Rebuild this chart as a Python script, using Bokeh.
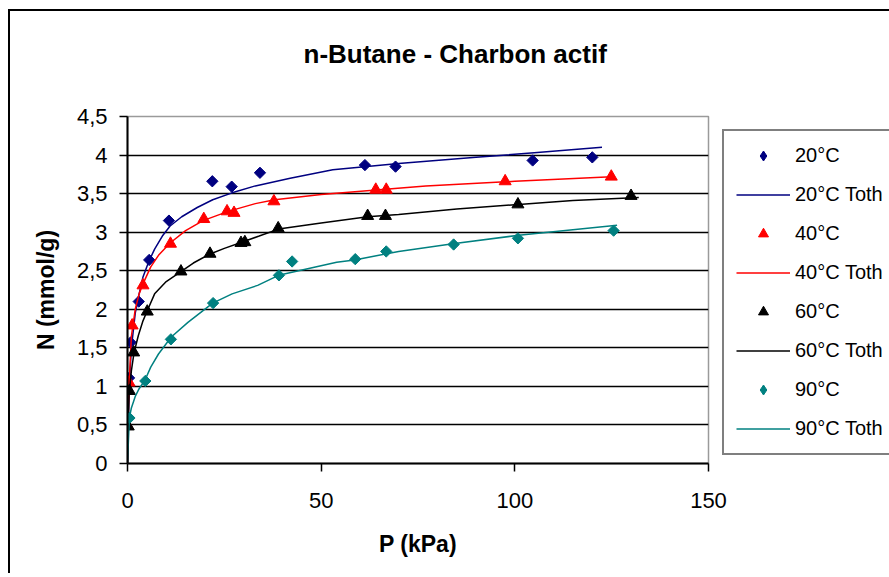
from bokeh.plotting import figure
from bokeh.models import Range1d, FixedTicker, Legend, LegendItem, CustomJSTickFormatter
from bokeh.embed import file_html
from bokeh.resources import INLINE
import math

# ---------------- data ----------------
title_text = "n-Butane - Charbon actif"
x_label = "P (kPa)"
y_label = "N (mmol/g)"
x_ticks = [0, 50, 100, 150]
y_ticks = [0, 0.5, 1, 1.5, 2, 2.5, 3, 3.5, 4, 4.5]
grid_levels = [0.5, 1, 1.5, 2, 2.5, 3, 3.5, 4]

# 20 °C experimental
p20 = [0.0, 0.4, 0.8, 2.9, 5.6, 10.7, 21.9, 26.9, 34.2, 61.3, 69.2, 104.6, 120.0]
n20 = [0.61, 1.11, 1.57, 2.10, 2.64, 3.15, 3.66, 3.59, 3.77, 3.87, 3.85, 3.93, 3.97]
# 20 °C Toth
p20t = [0, 0.2, 0.5, 1, 2, 3, 4, 5.5, 7, 9, 11, 14, 18, 22, 27, 33, 42, 53, 70, 90, 105, 122.5]
n20t = [0, 0.55, 1.05, 1.5, 1.95, 2.2, 2.42, 2.62, 2.78, 2.95, 3.08, 3.2, 3.32, 3.42,
        3.51, 3.6, 3.7, 3.81, 3.89, 3.97, 4.03, 4.10]

# 40 °C experimental
p40 = [0.0, 0.4, 1.2, 4.0, 11.1, 19.7, 25.7, 27.5, 37.8, 64.1, 66.8, 97.5, 124.9]
n40 = [0.49, 1.05, 1.79, 2.31, 2.85, 3.17, 3.27, 3.25, 3.40, 3.55, 3.55, 3.66, 3.72]
# 40 °C Toth
p40t = [0, 0.1, 0.4, 1, 2, 3, 4, 6, 8, 11, 15, 19.5, 26, 33, 38, 50, 65, 77, 100, 125]
n40t = [0, 0.45, 1.0, 1.65, 2.0, 2.2, 2.33, 2.55, 2.7, 2.86, 3.02, 3.15, 3.27, 3.37,
        3.42, 3.49, 3.55, 3.6, 3.66, 3.72]

# 60 °C experimental
p60 = [0.2, 0.5, 1.6, 5.1, 13.8, 21.3, 29.3, 30.3, 38.9, 62.0, 66.6, 100.8, 130.0]
n60 = [0.48, 0.94, 1.44, 1.97, 2.49, 2.72, 2.86, 2.87, 3.05, 3.21, 3.21, 3.36, 3.47]
# 60 °C Toth
p60t = [0, 0.1, 0.4, 1, 1.7, 2.8, 4, 5.1, 7, 10, 13.5, 17, 21, 25, 29.5, 34, 39, 50,
        62, 70, 85, 101, 115, 132]
n60t = [0, 0.35, 0.9, 1.2, 1.44, 1.66, 1.85, 1.98, 2.2, 2.36, 2.48, 2.6, 2.71, 2.79,
        2.87, 2.95, 3.04, 3.12, 3.2, 3.23, 3.3, 3.36, 3.41, 3.45]

# 90 °C experimental
p90 = [0.5, 4.6, 11.2, 22.1, 39.1, 42.5, 58.8, 66.8, 84.2, 100.8, 125.5]
n90 = [0.59, 1.07, 1.61, 2.08, 2.44, 2.62, 2.65, 2.75, 2.84, 2.92, 3.02]
# 90 °C Toth
p90t = [0, 0.2, 0.5, 1, 2, 3, 4.5, 6, 8, 11.3, 15.6, 22, 27, 33.6, 39, 54, 58.6, 70,
        84, 101, 126.4]
n90t = [0, 0.25, 0.6, 0.72, 0.87, 0.97, 1.08, 1.25, 1.42, 1.64, 1.83, 2.08, 2.2, 2.31,
        2.44, 2.61, 2.64, 2.75, 2.85, 2.96, 3.09]

series_labels = ["20°C", "20°C Toth", "40°C", "40°C Toth",
                 "60°C", "60°C Toth", "90°C", "90°C Toth"]

NAVY = "#000080"
RED = "#FF0000"
BLACK = "#000000"
TEAL = "#008080"
FONT = "Liberation Sans"

# ---------------- figure ----------------
p = figure(frame_width=581, frame_height=347,
           min_border_left=117, min_border_right=180,
           min_border_top=105, min_border_bottom=110,
           x_range=Range1d(0, 150), y_range=Range1d(0, 4.5),
           output_backend="svg", toolbar_location=None)
p.styles = {"margin-left": "8px", "margin-top": "9px",
            "border-left": "2px solid black", "border-top": "2px solid black"}
p.background_fill_color = "white"
p.border_fill_color = "white"
p.outline_line_color = "#9a9a9a"
p.outline_line_width = 1.5

# title (a trailing blank line lifts the text inside the title band)
p.title.text = title_text + "\n "
p.title.align = "left"
p.title.offset = 176
p.title.vertical_align = "bottom"
p.title.text_font = FONT
p.title.text_font_size = "26px"
p.title.text_font_style = "bold"
p.title.text_color = "black"
p.title.standoff = 36

# axes
for ax in (p.xaxis[0], p.yaxis[0]):
    ax.axis_line_color = "black"
    ax.axis_line_width = 2
    ax.major_tick_line_color = "black"
    ax.major_tick_line_width = 1.5
    ax.major_tick_in = 0
    ax.major_tick_out = 8
    ax.minor_tick_line_color = None
    ax.major_label_text_font = FONT
    ax.major_label_text_font_size = "22px"
    ax.major_label_text_color = "black"
    ax.axis_label_text_font = FONT
    ax.axis_label_text_font_size = "23px"
    ax.axis_label_text_font_style = "bold"
    ax.axis_label_text_color = "black"

p.xaxis.ticker = FixedTicker(ticks=x_ticks)
p.yaxis.ticker = FixedTicker(ticks=y_ticks)
p.yaxis.formatter = CustomJSTickFormatter(code="return tick.toString().replace('.', ',');")
p.xaxis.axis_label = x_label
p.yaxis.axis_label = y_label
p.xaxis.major_label_standoff = 21
p.xaxis.axis_label_standoff = 20
p.yaxis.major_label_standoff = 12
p.yaxis.axis_label_standoff = 15

p.xgrid.visible = False
p.ygrid.ticker = FixedTicker(ticks=grid_levels)
p.ygrid.grid_line_color = "black"
p.ygrid.grid_line_width = 1.5

# ---------------- glyphs ----------------
rot = math.pi / 4
# diamond swatches used by the legend (legend glyphs are drawn unrotated);
# they sit hidden beneath the rotated squares in the plot
k20 = p.scatter(p20, n20, marker="diamond", size=8, fill_color=NAVY, line_color=NAVY)
k90 = p.scatter(p90, n90, marker="diamond", size=8, fill_color=TEAL, line_color=TEAL)

r20 = p.scatter(p20, n20, marker="square", size=8, angle=rot,
                fill_color=NAVY, line_color=NAVY)
l20 = p.line(p20t, n20t, line_color=NAVY, line_width=1.5)
r40 = p.scatter(p40, n40, marker="triangle", size=12,
                fill_color=RED, line_color=RED)
l40 = p.line(p40t, n40t, line_color=RED, line_width=1.5)
r60 = p.scatter(p60, n60, marker="triangle", size=12,
                fill_color=BLACK, line_color=BLACK)
l60 = p.line(p60t, n60t, line_color=BLACK, line_width=1.5)
r90 = p.scatter(p90, n90, marker="square", size=8, angle=rot,
                fill_color=TEAL, line_color=TEAL)
l90 = p.line(p90t, n90t, line_color=TEAL, line_width=1.5)

legend_renderers = [k20, l20, r40, l40, r60, l60, k90, l90]
items = [LegendItem(label=lab, renderers=[r]) for lab, r in zip(series_labels, legend_renderers)]

legend = Legend(items=items, location=(14, 8),
                padding=12, spacing=14,
                glyph_width=54, glyph_height=25, label_height=20,
                label_standoff=5,
                label_text_font=FONT, label_text_font_size="20px",
                label_text_color="black",
                border_line_color="black", border_line_width=2,
                background_fill_color="white", background_fill_alpha=1.0)
p.add_layout(legend, "right")

open("out.html", "w").write(file_html(p, INLINE))
